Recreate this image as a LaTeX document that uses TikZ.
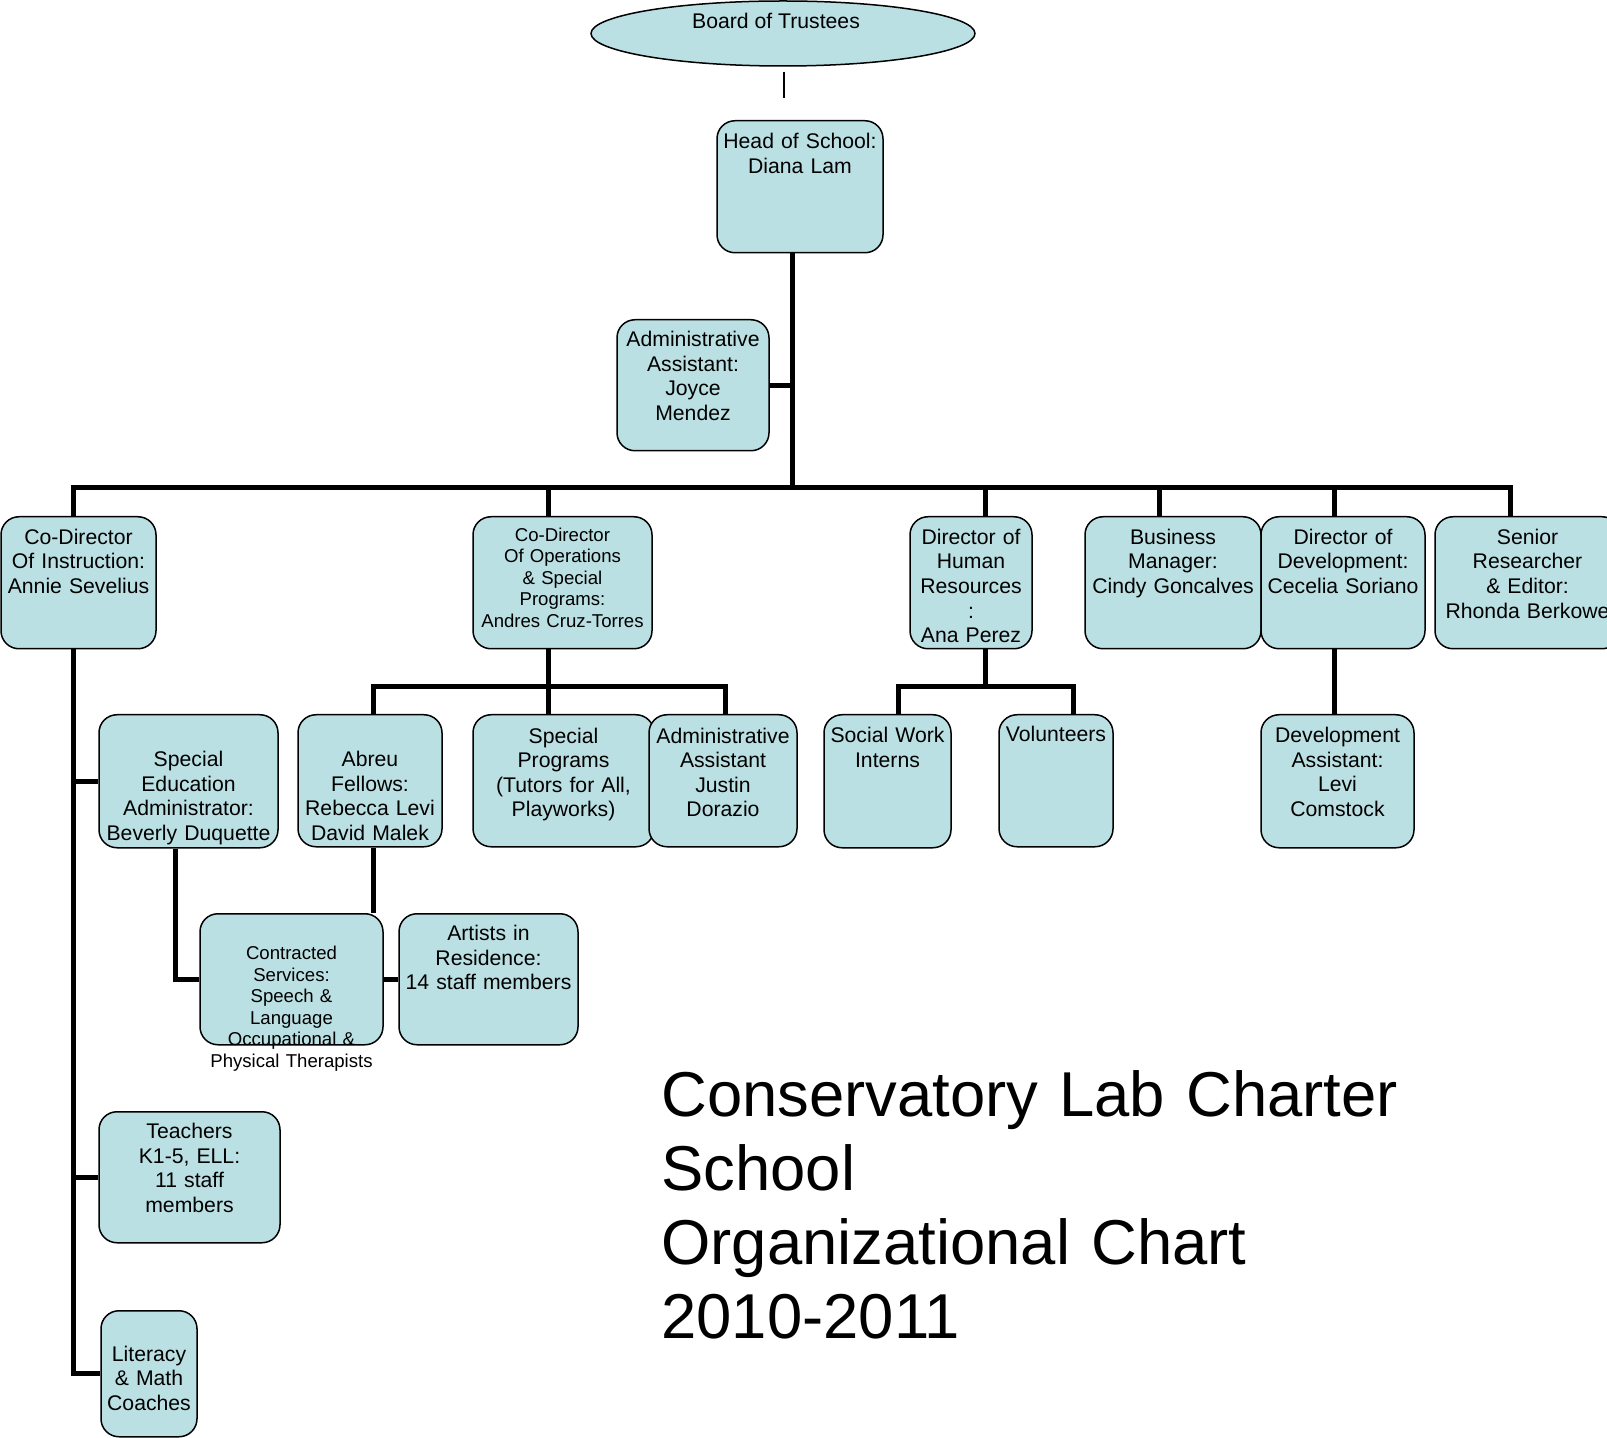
\documentclass[tikz,border=0pt]{standalone}
\usepackage{fontspec}
\setmainfont{Liberation Sans}
\usetikzlibrary{shapes.geometric}
\definecolor{boxfill}{RGB}{187,224,227}
\tikzset{
  unit/.style={draw, line width=0.75pt, fill=boxfill, rounded corners=9pt, anchor=north,
    inner sep=0pt, align=center, font=\fontsize{10.6}{12.3}\selectfont},
  smalltext/.style={font=\fontsize{9.3}{10.75}\selectfont},
  link/.style={line width=2.5pt},
  thinline/.style={line width=0.6pt}
}

\begin{document}
\begin{tikzpicture}[x=0.5pt,y=-0.5pt]
\useasboundingbox (0,0) rectangle (1607,1438);

% board and head
\node[draw, ellipse, line width=0.75pt, fill=boxfill, minimum width=192pt, minimum height=32.5pt,
  inner sep=0pt, text height=8pt, text depth=12.5pt, font=\fontsize{10.6}{12.3}\selectfont] (bot) at (783,33.5) {Board of Trustees\hspace*{7pt}};
\node[unit, text width=83pt, text height=14pt, text depth=52pt] (hos) at (800,120) {Head of School:\\Diana Lam};
\node[unit, text width=76pt, text height=13.5pt, text depth=52pt] (joyce) at (693,319) {Administrative\\Assistant:\\Joyce\\Mendez};

% first row
\node[unit, text width=77.5pt, text height=13.75pt, text depth=52.25pt] (cdi) at (78.5,516) {Co-Director\\Of Instruction:\\Annie Sevelius};
\node[unit, smalltext, text width=89.5pt, text height=12.3pt, text depth=53.7pt] (cdo) at (562.5,516) {Co-Director\\Of Operations\\\& Special\\Programs:\\Andres Cruz-Torres};
\node[unit, text width=61pt, text height=13.75pt, text depth=52.25pt] (hr) at (971,516) {Director of\\Human\\Resources\\:\\Ana Perez};
\node[unit, text width=88pt, text height=13.75pt, text depth=52.25pt] (bm) at (1173,516) {Business\\Manager:\\Cindy Goncalves};
\node[unit, text width=82pt, text height=13.75pt, text depth=52.25pt] (dev) at (1343,516) {Director of\\Development:\\Cecelia Soriano};
\node[unit, text width=92.5pt, text height=13.75pt, text depth=52.25pt] (sr) at (1527.5,516) {Senior\\Researcher\\\& Editor:\\Rhonda Berkowe};

% second row
\node[unit, text width=89.5pt, text height=26pt, text depth=40.5pt] (sped) at (188.5,714) {Special\\Education\\Administrator:\\Beverly Duquette};
\node[unit, text width=72pt, text height=26pt, text depth=40pt] (abreu) at (370,714) {Abreu\\Fellows:\\Rebecca Levi\\David Malek};
\node[unit, text width=90.5pt, text height=14.2pt, text depth=51.8pt] (spp) at (563.5,714) {Special\\Programs\\(Tutors for All,\\Playworks)};
\node[unit, text width=74pt, text height=14.2pt, text depth=51.8pt] (justin) at (723,714) {Administrative\\Assistant\\Justin\\Dorazio};
\node[unit, text width=63.5pt, text height=14pt, text depth=52.5pt] (swi) at (887.5,714) {Social Work\\Interns};
\node[unit, text width=57pt, text height=13.5pt, text depth=52.5pt] (vol) at (1056,714) {Volunteers};
\node[unit, text width=76.5pt, text height=14pt, text depth=52.5pt] (deva) at (1337.5,714) {Development\\Assistant:\\Levi\\Comstock};

% lower boxes
\node[unit, smalltext, text width=91.5pt, text height=22.9pt, text depth=42.6pt] (contr) at (291.5,913) {Contracted\\Services:\\Speech \&\\Language\\Occupational \&\\Physical Therapists};
\node[unit, text width=89.5pt, text height=13.5pt, text depth=52pt] (artists) at (488.5,913) {Artists in\\Residence:\\14 staff members};
\node[unit, text width=90.5pt, text height=13.5pt, text depth=52pt] (teach) at (189.5,1111) {Teachers\\K1-5, ELL:\\11 staff\\members};
\node[unit, text width=48pt, text height=25.2pt, text depth=37.8pt] (lit) at (149,1310) {Literacy\\\& Math\\Coaches};

% title
\node[anchor=base west, text width=420pt, align=left, inner sep=0pt,
  font=\fontsize{31.7}{37}\selectfont] (caption) at (661,1116) {Conservatory Lab Charter\\School\\Organizational Chart\\2010-2011};

% connectors
\coordinate (stub) at (784,98);
\coordinate (busL) at (73,488);
\coordinate (busR) at (1510,488);
\coordinate (opsL) at (373,687);
\coordinate (opsR) at (725,687);
\coordinate (hrL) at (898,687);
\coordinate (hrR) at (1073,687);

\draw[thinline] ([shift={(0.5pt,-2.5pt)}]bot.south) -- (stub);
\draw[link] ([xshift=-4pt]hos.south) coordinate (trunk) -- (trunk |- busL);
\draw[link] (joyce.east) -- (joyce.east -| trunk);
\draw[link] (cdi.north -| busL) -- (busL) -- (busR) -- (sr.north -| busR);
\draw[link] ([xshift=-7.25pt]cdo.north) -- ([xshift=-7.25pt]cdo.north |- busL);
\draw[link] ([xshift=7pt]hr.north) -- ([xshift=7pt]hr.north |- busL);
\draw[link] ([xshift=-7pt]bm.north) -- ([xshift=-7pt]bm.north |- busL);
\draw[link] ([xshift=-4.5pt]dev.north) -- ([xshift=-4.5pt]dev.north |- busL);

\draw[link] (cdi.south -| busL) |- (lit.west);
\draw[link] (sped.west) -- (sped.west -| busL);
\draw[link] (teach.west) -- (teach.west -| busL);
\draw[link] ([xshift=-6.75pt]sped.south) |- (contr.west);
\draw[link] ([xshift=1.5pt]abreu.south) -- ([xshift=1.5pt]abreu.south |- contr.north);
\draw[link] (contr.east) -- (artists.west);

\draw[link] ([xshift=-7.25pt]cdo.south) coordinate (opsdrop) -- (opsdrop |- spp.north);
\draw[link] (abreu.north -| opsL) -- (opsL) -- (opsR) -- (justin.north -| opsR);
\draw[link] ([xshift=7pt]hr.south) -- ([xshift=7pt]hr.south |- hrL);
\draw[link] (swi.north -| hrL) -- (hrL) -- (hrR) -- (vol.north -| hrR);
\draw[link] ([xshift=-4.5pt]dev.south) -- ([xshift=-4.5pt]dev.south |- deva.north);
\end{tikzpicture}
\end{document}
